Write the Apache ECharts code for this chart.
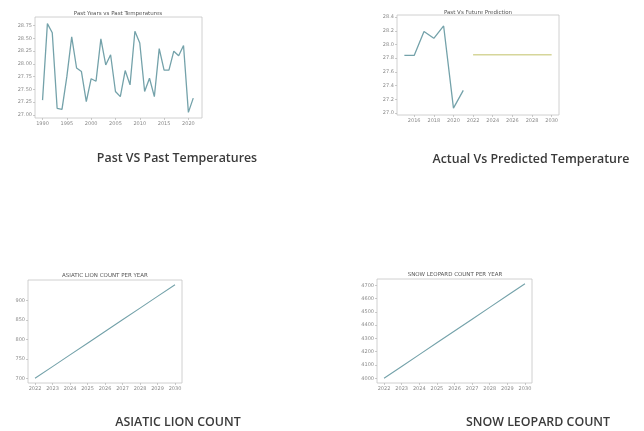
<!DOCTYPE html>
<html>
<head>
<meta charset="utf-8">
<script src="https://cdn.jsdelivr.net/npm/echarts@6.0.0/dist/echarts.min.js"></script>
<style>
html,body{margin:0;padding:0;background:#fff;}
#c{width:644px;height:431px;}
</style>
</head>
<body>
<div id="c"></div>
<script>
// Chart 1: Past Years vs Past Temperatures
var pastYears = [1990,1991,1992,1993,1994,1995,1996,1997,1998,1999,2000,2001,2002,2003,2004,2005,2006,2007,2008,2009,2010,2011,2012,2013,2014,2015,2016,2017,2018,2019,2020,2021];
var pastTemps = [27.29,28.79,28.61,27.13,27.11,27.75,28.53,27.92,27.85,27.26,27.71,27.66,28.49,27.98,28.18,27.46,27.36,27.87,27.59,28.64,28.41,27.46,27.72,27.36,28.30,27.88,27.88,28.25,28.16,28.36,27.05,27.33];
var pastXTicks = [1990,1995,2000,2005,2010,2015,2020];
var pastYTicks = [27.00,27.25,27.50,27.75,28.00,28.25,28.50,28.75];

// Chart 2: Past Vs Future Prediction
var actualYears = [2015,2016,2017,2018,2019,2020,2021];
var actualTemps = [27.84,27.84,28.19,28.09,28.27,27.07,27.33];
var predYears = [2022,2023,2024,2025,2026,2027,2028,2029,2030];
var predTemps = [27.85,27.85,27.85,27.85,27.85,27.85,27.85,27.85,27.85];
var predXTicks = [2016,2018,2020,2022,2024,2026,2028,2030];
var predYTicks = [27.0,27.2,27.4,27.6,27.8,28.0,28.2,28.4];

// Chart 3: Asiatic lion count per year
var lionYears = [2022,2023,2024,2025,2026,2027,2028,2029,2030];
var lionCounts = [700,730,760,790,820,850,880,910,940];
var lionYTicks = [700,750,800,850,900];

// Chart 4: Snow leopard count per year
var leopardYears = [2022,2023,2024,2025,2026,2027,2028,2029,2030];
var leopardCounts = [4000,4089,4178,4267,4356,4445,4534,4623,4712];
var leopardYTicks = [4000,4100,4200,4300,4400,4500,4600,4700];

var chartTitles = ['Past Years vs Past Temperatures','Past Vs Future Prediction','ASIATIC LION COUNT PER YEAR','SNOW LEOPARD COUNT PER YEAR'];
var captions = ['Past VS Past Temperatures','Actual Vs Predicted Temperature','ASIATIC LION COUNT','SNOW LEOPARD COUNT'];

function pairs(xs, ys){ return xs.map(function(x,i){ return [x, ys[i]]; }); }

function axisCfg(idx, min, max, ticks, fmt){
  return {type:'value', gridIndex:idx, min:min, max:max,
    axisLine:{show:false}, splitLine:{show:false},
    axisTick:{show:true, length:2, lineStyle:{color:'#aaa', width:0.6}, customValues:ticks},
    axisLabel:{customValues:ticks, fontSize:5, color:'#8a8a8a', fontFamily:'DejaVu Sans', margin:3,
      formatter:fmt||function(v){return String(Math.round(v));}}};
}
var gridStyle = {show:true, borderColor:'#c4c4c4', borderWidth:0.8, backgroundColor:'#fff'};
var lineColor = '#74a2aa';

var grids = [
  Object.assign({left:35, top:17, width:167, height:101}, gridStyle),
  Object.assign({left:397, top:15, width:162, height:100}, gridStyle),
  Object.assign({left:28, top:280, width:154, height:103}, gridStyle),
  Object.assign({left:377, top:279, width:155, height:104}, gridStyle)
];

var titlePos = [[118,14],[478,13],[105,276],[455,275]];
var captionPos = [[177,158],[531,159],[178,422],[538,422]];
var graphics = [];
chartTitles.forEach(function(t,i){
  graphics.push({type:'text', x:titlePos[i][0], y:titlePos[i][1], style:{text:t, fill:'#555', font:'5.5px "DejaVu Sans"', textAlign:'center', textVerticalAlign:'middle'}});
});
captions.forEach(function(t,i){
  graphics.push({type:'text', x:captionPos[i][0], y:captionPos[i][1], style:{text:t, fill:'#3a3a3a', font:'600 12.4px "Open Sans"', textAlign:'center', textVerticalAlign:'middle'}});
});

var option = {
  animation:false,
  backgroundColor:'#fff',
  grid: grids,
  xAxis: [
    axisCfg(0, 1988.45, 2022.8, pastXTicks),
    axisCfg(1, 2014.25, 2030.75, predXTicks),
    axisCfg(2, 2021.6, 2030.4, lionYears),
    axisCfg(3, 2021.6, 2030.4, leopardYears)
  ],
  yAxis: [
    axisCfg(0, 26.94, 28.92, pastYTicks, function(v){return Number(v).toFixed(2);}),
    axisCfg(1, 26.97, 28.43, predYTicks, function(v){return Number(v).toFixed(1);}),
    axisCfg(2, 688, 952, lionYTicks),
    axisCfg(3, 3964, 4748, leopardYTicks)
  ],
  series: [
    {type:'line', xAxisIndex:0, yAxisIndex:0, data:pairs(pastYears,pastTemps), showSymbol:false, lineStyle:{color:lineColor, width:1.3}},
    {type:'line', xAxisIndex:1, yAxisIndex:1, data:pairs(actualYears,actualTemps), showSymbol:false, lineStyle:{color:lineColor, width:1.3}},
    {type:'line', xAxisIndex:1, yAxisIndex:1, data:pairs(predYears,predTemps), showSymbol:false, lineStyle:{color:'#d6d69a', width:1.3}},
    {type:'line', xAxisIndex:2, yAxisIndex:2, data:pairs(lionYears,lionCounts), showSymbol:false, lineStyle:{color:lineColor, width:1.1}},
    {type:'line', xAxisIndex:3, yAxisIndex:3, data:pairs(leopardYears,leopardCounts), showSymbol:false, lineStyle:{color:lineColor, width:1.1}}
  ],
  graphic: graphics
};
var chart = echarts.init(document.getElementById('c'), null, {renderer:'canvas'});
chart.setOption(option);
</script>
</body>
</html>
